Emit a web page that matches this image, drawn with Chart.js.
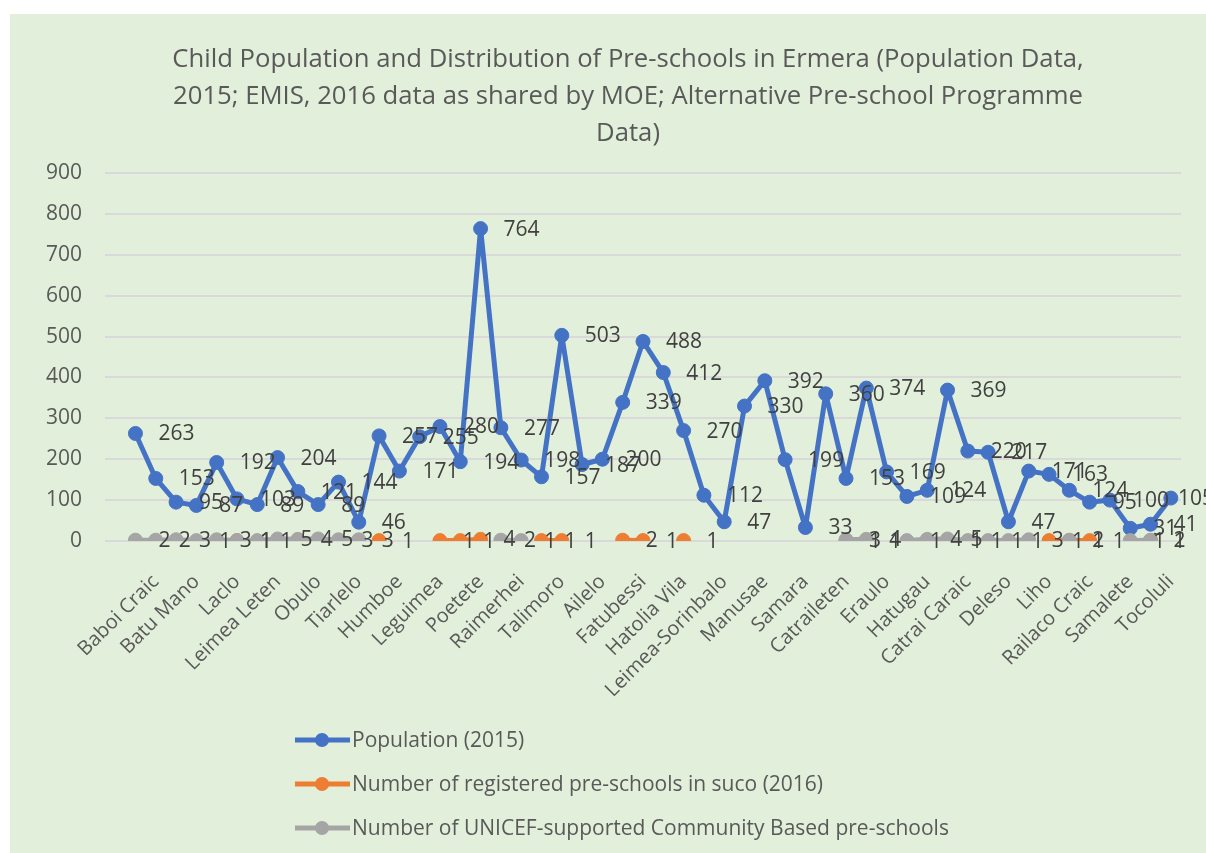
<!DOCTYPE html>
<html>
<head>
<meta charset="utf-8">
<title>Child Population and Distribution of Pre-schools in Ermera</title>
<script src="https://cdn.jsdelivr.net/npm/chart.js@4.4.1/dist/chart.umd.min.js"></script>
<style>
  html, body { margin: 0; padding: 0; background: #fff; }
  #wrap { position: absolute; left: 10px; top: 14px; width: 1196px; height: 839px; background: #E2EFDA; }
</style>
</head>
<body>
<div id="wrap"><canvas id="chart"></canvas></div>
<script>
// sucos shown on the axis (every second category carries a label)
const sucoLabels = [
    'Baboi Craic', 'Batu Mano', 'Laclo', 'Leimea Leten', 'Obulo', 'Tiarlelo',
    'Humboe', 'Leguimea', 'Poetete', 'Raimerhei', 'Talimoro', 'Ailelo',
    'Fatubessi', 'Hatolia Vila', 'Leimea-Sorinbalo', 'Manusae', 'Samara',
    'Catraileten', 'Eraulo', 'Hatugau', 'Catrai Caraic', 'Deleso', 'Liho',
    'Railaco Craic', 'Samalete', 'Tocoluli'
];

// first category of the sheet is empty
const population = [
    null,
    263, 153, 95, 87, 192, 103, 89, 204, 121, 89,
    144, 46, 257, 171, 255, 280, 194, 764, 277, 198,
    157, 503, 187, 200, 339, 488, 412, 270, 112, 47,
    330, 392, 199, 33, 360, 153, 374, 169, 109, 124,
    369, 220, 217, 47, 171, 163, 124, 95, 100, 31,
    41, 105
];

const registered = [
    null,
    null, null, null, null, null, 1, null, null, null, null,
    null, null, 1, null, null, 1, 1, 4, null, null,
    1, 1, null, null, 2, 1, null, 1, null, null,
    null, null, null, null, null, 1, 1, null, null, null,
    1, null, null, null, null, 1, 1, 1, null, null,
    1, null
];

const unicef = [
    null,
    2, 2, 3, 1, 3, 1, 1, 5, 4, 5,
    3, 3, null, null, null, null, null, null, 2, 1,
    null, null, null, null, null, null, null, null, null, null,
    null, null, null, null, null, 3, 4, null, 1, 4,
    5, 1, 1, 1, 3, null, 2, null, null, 1,
    2, null
];

const titleLines = [
    'Child Population and Distribution of Pre-schools in Ermera (Population Data,',
    '2015; EMIS, 2016 data as shared by MOE; Alternative Pre-school Programme',
    'Data)'
];

const categories = population.map((v, k) => (k > 0 && k % 2 === 0) ? sucoLabels[k / 2 - 1] : '');

const FONT = '"Open Sans", "Noto Sans", sans-serif';

const titlePlugin = {
    id: 'titleText',
    afterDraw(chart) {
        const ctx = chart.ctx;
        ctx.save();
        ctx.font = `25.7px ${FONT}`;
        ctx.fillStyle = '#595959';
        ctx.textAlign = 'center';
        ctx.textBaseline = 'middle';
        titleLines.forEach((line, i) => {
            ctx.fillText(line, 618, 46 + i * 37);
        });
        ctx.restore();
    }
};

const valueLabels = {
    id: 'valueLabels',
    afterDatasetsDraw(chart) {
        const ctx = chart.ctx;
        ctx.save();
        ctx.font = `21px ${FONT}`;
        ctx.fillStyle = '#404040';
        ctx.textAlign = 'left';
        ctx.textBaseline = 'middle';
        chart.data.datasets.forEach((ds, i) => {
            const meta = chart.getDatasetMeta(i);
            meta.data.forEach((pt, j) => {
                const v = ds.data[j];
                if (v === null || v === undefined) return;
                const txt = String(v);
                const w = ctx.measureText(txt).width;
                const x = Math.min(pt.x + 23, chart.width - w + 8);
                ctx.fillText(txt, x, pt.y + 1);
            });
        });
        ctx.restore();
    }
};

const lineLegend = {
    id: 'lineLegend',
    afterDraw(chart) {
        const ctx = chart.ctx;
        ctx.save();
        ctx.font = `21px ${FONT}`;
        ctx.textAlign = 'left';
        ctx.textBaseline = 'middle';
        chart.data.datasets.forEach((ds, i) => {
            const y = 726 + i * 44;
            ctx.strokeStyle = ds.borderColor;
            ctx.lineWidth = ds.borderWidth;
            ctx.beginPath();
            ctx.moveTo(285, y);
            ctx.lineTo(340, y);
            ctx.stroke();
            ctx.fillStyle = ds.borderColor;
            ctx.beginPath();
            ctx.arc(312, y, ds.pointRadius, 0, Math.PI * 2);
            ctx.fill();
            ctx.fillStyle = '#595959';
            ctx.fillText(ds.label, 342, y + 1);
        });
        ctx.restore();
    }
};

function series(label, data, color, order) {
    return {
        label,
        data,
        borderColor: color,
        backgroundColor: color,
        pointBackgroundColor: color,
        pointBorderColor: color,
        borderWidth: 5,
        borderJoinStyle: 'round',
        borderCapStyle: 'round',
        pointRadius: 7,
        pointHoverRadius: 7,
        pointBorderWidth: 1,
        tension: 0,
        spanGaps: false,
        order
    };
}

new Chart(document.getElementById('chart'), {
    type: 'line',
    data: {
        labels: categories,
        datasets: [
            series('Population (2015)', population, '#4472C4', 2),
            series('Number of registered pre-schools in suco (2016)', registered, '#ED7D31', 1),
            series('Number of UNICEF-supported Community Based pre-schools', unicef, '#A5A5A5', 0)
        ]
    },
    options: {
        responsive: true,
        maintainAspectRatio: false,
        animation: false,
        layout: {
            padding: { top: 159, right: 25, bottom: 132, left: 0 }
        },
        plugins: {
            legend: { display: false },
            title: { display: false },
            tooltip: { enabled: false }
        },
        scales: {
            x: {
                offset: true,
                grid: { display: false },
                border: { display: false },
                ticks: {
                    autoSkip: false,
                    maxRotation: 45,
                    minRotation: 45,
                    padding: 21,
                    color: '#595959',
                    font: { family: FONT, size: 20 }
                },
                afterFit(scale) {
                    scale.height = 180;
                    scale.paddingLeft = 0;
                    scale.paddingRight = 0;
                }
            },
            y: {
                min: 0,
                max: 900,
                ticks: {
                    stepSize: 100,
                    padding: 23,
                    color: '#595959',
                    font: { family: FONT, size: 21 }
                },
                grid: { color: '#D9D9D9', lineWidth: 2, drawTicks: false },
                border: { display: false },
                afterFit(scale) {
                    scale.width = 95;
                    scale.paddingTop = 0;
                    scale.paddingBottom = 0;
                }
            }
        }
    },
    plugins: [titlePlugin, valueLabels, lineLegend]
});
</script>
</body>
</html>
